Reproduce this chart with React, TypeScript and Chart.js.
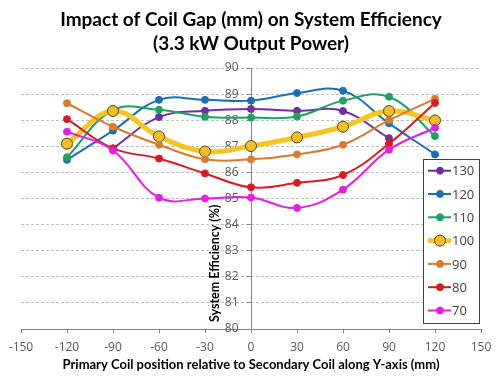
import React, { useEffect, useRef } from "react";
import { Chart, registerables } from "chart.js";
Chart.register(...registerables);

// ---- data ----
const xPositions = [-120, -90, -60, -30, 0, 30, 60, 90, 120];
const gapLabels = ["130", "120", "110", "100", "90", "80", "70"];
const eff130 = [null, 86.92, 88.12, 88.36, 88.43, 88.36, 88.35, 87.31, null];
const eff120 = [86.48, 87.6, 88.78, 88.78, 88.75, 89.04, 89.13, 87.88, 86.69];
const eff110 = [86.58, 88.38, 88.4, 88.13, 88.1, 88.14, 88.75, 88.9, 87.39];
const eff100 = [87.1, 88.35, 87.38, 86.8, 87.01, 87.34, 87.75, 88.35, 87.99];
const eff90 = [88.65, 87.75, 87.06, 86.5, 86.5, 86.69, 87.06, 88.0, 88.82];
const eff80 = [88.04, 86.92, 86.53, 85.96, 85.43, 85.6, 85.9, 87.1, 88.66];
const eff70 = [87.56, 86.84, 85.03, 85.0, 85.04, 84.64, 85.34, 86.87, 87.71];
const seriesValues = [eff130, eff120, eff110, eff100, eff90, eff80, eff70];
const seriesColors = ["#7030a0", "#1f6db3", "#1fa163", "#f5c623", "#d97a2f", "#d41c22", "#e41fe0"];

const titleLines = ["Impact of Coil Gap (mm) on System Efficiency", "(3.3 kW Output Power)"];
const xTitle = "Primary Coil position relative to Secondary Coil along Y-axis (mm)";
const yTitle = "System Efficiency (%)";
const xMin = -150, xMax = 150, xStep = 30;
const yMin = 80, yMax = 90, yStep = 1;

const narrowFont = "Lato, sans-serif";
const bodyFont = "'Open Sans', sans-serif";

const yTitlePlugin = {
  id: "yTitleRotated",
  afterDraw(chart: any) {
    const ctx = chart.ctx;
    const xs = chart.scales.x;
    const ys = chart.scales.y;
    ctx.save();
    ctx.font = `bold 12.5px ${narrowFont}`;
    ctx.fillStyle = "#000000";
    ctx.translate(xs.getPixelForValue(0) - 36, ys.getPixelForValue(yMin) - 7);
    ctx.rotate(-Math.PI / 2);
    ctx.textAlign = "left";
    ctx.textBaseline = "middle";
    ctx.fillText(yTitle, 0, 0);
    ctx.restore();
  },
};

const legendPlugin = {
  id: "boxLegend",
  afterDraw(chart: any) {
    const ctx = chart.ctx;
    const left = 423, top = 159, w = 56, h = 164;
    ctx.save();
    ctx.fillStyle = "#ffffff";
    ctx.fillRect(left, top, w, h);
    ctx.strokeStyle = "#404040";
    ctx.lineWidth = 1;
    ctx.strokeRect(left + 0.5, top + 0.5, w, h);
    chart.data.datasets.forEach((ds: any, i: number) => {
      const y = top + 11.7 + i * 23.3;
      ctx.strokeStyle = ds.borderColor;
      ctx.lineWidth = ds.borderWidth;
      ctx.beginPath();
      ctx.moveTo(left + 5, y);
      ctx.lineTo(left + 28, y);
      ctx.stroke();
      ctx.beginPath();
      ctx.arc(left + 17, y, ds.pointRadius, 0, Math.PI * 2);
      ctx.fillStyle = ds.pointBackgroundColor;
      ctx.fill();
      ctx.lineWidth = ds.pointBorderWidth;
      ctx.strokeStyle = ds.pointBorderColor;
      ctx.stroke();
      ctx.fillStyle = "#404040";
      ctx.font = `13px ${bodyFont}`;
      ctx.textAlign = "left";
      ctx.textBaseline = "middle";
      ctx.fillText(ds.label, left + 29, y + 1);
    });
    ctx.restore();
  },
};

export default function App() {
  const ref = useRef<HTMLCanvasElement | null>(null);
  useEffect(() => {
    if (!ref.current) return;
    const datasets = gapLabels.map((label, i) => {
      const big = label === "100";
      return {
        label,
        data: xPositions.map((x, j) => ({ x, y: seriesValues[i][j] })),
        borderColor: seriesColors[i],
        backgroundColor: seriesColors[i],
        borderWidth: big ? 5 : 2,
        pointRadius: big ? 5.5 : 3.5,
        pointBackgroundColor: big ? "#f2bf2a" : seriesColors[i],
        pointBorderColor: big ? "#5c4800" : seriesColors[i],
        pointBorderWidth: 1,
        tension: 0.4,
        order: gapLabels.length - i,
        spanGaps: false,
      };
    });
    const chart = new Chart(ref.current, {
      type: "line",
      data: { datasets },
      options: {
        animation: false,
        responsive: false,
        layout: { padding: { left: 21, right: 19, top: 0, bottom: 9 } },
        plugins: {
          legend: { display: false },
          tooltip: { enabled: false },
          title: {
            display: true,
            text: titleLines,
            color: "#000000",
            font: { family: narrowFont, size: 19, weight: "bold", lineHeight: 24 / 19 },
            padding: { top: 8, bottom: 12 },
          },
        },
        scales: {
          x: {
            type: "linear",
            min: xMin,
            max: xMax,
            ticks: { stepSize: xStep, color: "#595959", font: { family: bodyFont, size: 12 }, padding: 7 },
            grid: { display: true, drawOnChartArea: false, drawTicks: true, tickLength: 4, tickColor: "#868686" },
            border: { display: true, color: "#868686" },
            title: {
              display: true,
              text: xTitle,
              color: "#000000",
              font: { family: narrowFont, size: 13, weight: "bold" },
              padding: { top: -4, bottom: 4 },
            },
          },
          y: {
            type: "linear",
            min: yMin,
            max: yMax,
            position: { x: 0 } as any,
            ticks: {
              stepSize: yStep,
              color: "#595959",
              font: { family: bodyFont, size: 12 },
              callback: (v: any) => `${v}    `,
            },
            grid: {
              color: (c: any) => (c.tick && c.tick.value === yMin ? "rgba(0,0,0,0)" : "#bfbfbf"),
              tickColor: "#868686",
              tickLength: 5,
            },
            border: { display: true, color: "#868686", dash: [3, 2] },
          },
        },
      } as any,
      plugins: [yTitlePlugin, legendPlugin],
    });
    return () => chart.destroy();
  }, []);
  return (
    <div style={{ position: "fixed", left: 0, top: 0, width: 500, height: 386, background: "#ffffff" }}>
      <canvas ref={ref} width={500} height={386} />
    </div>
  );
}
